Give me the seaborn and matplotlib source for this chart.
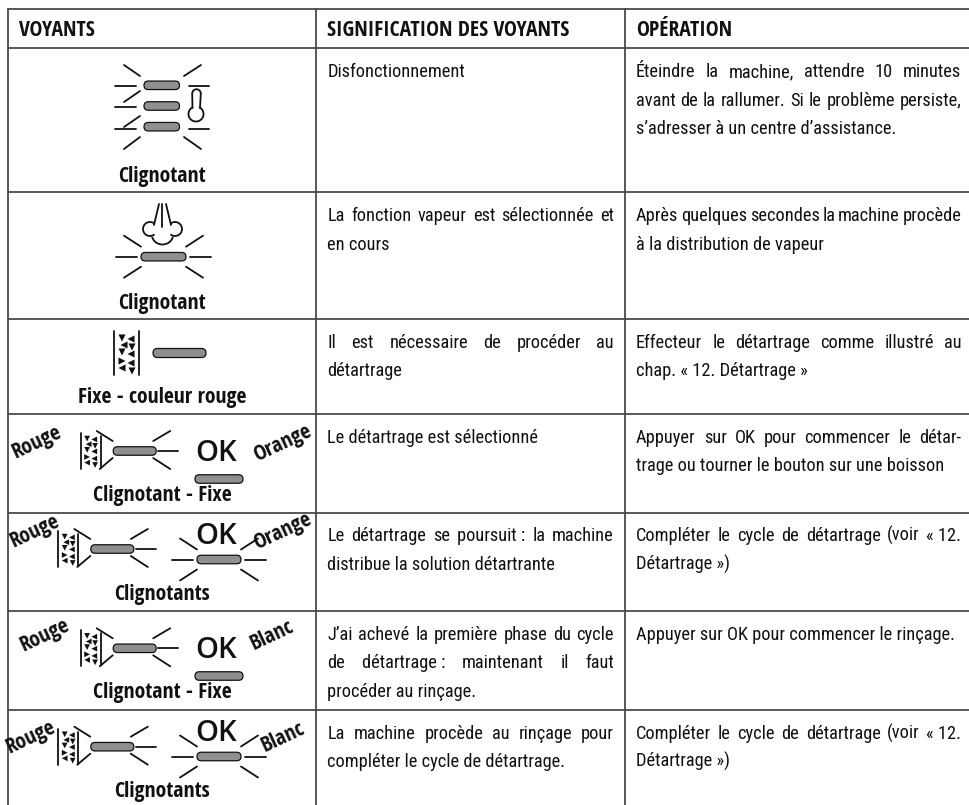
import matplotlib
matplotlib.use("Agg")
import matplotlib.pyplot as plt
import pandas as pd
import seaborn as sns
from matplotlib.patches import Arc, FancyBboxPatch

# table text
headers = ["VOYANTS", "SIGNIFICATION DES VOYANTS", "OPÉRATION"]
captions = ["Clignotant", "Clignotant", "Fixe - couleur rouge", "Clignotant - Fixe",
            "Clignotants", "Clignotant - Fixe", "Clignotants"]
meanings = [
    ["Disfonctionnement"],
    ["La fonction vapeur est sélectionnée et", "en cours"],
    ["Il est nécessaire de procéder au", "détartrage"],
    ["Le détartrage est sélectionné"],
    ["Le détartrage se poursuit\u00a0: la machine", "distribue la solution détartrante"],
    ["J’ai achevé la première phase du cycle", "de détartrage\u00a0: maintenant il faut", "procéder au rinçage."],
    ["La machine procède au rinçage pour", "compléter le cycle de détartrage."],
]
operations = [
    ["Éteindre la machine, attendre 10 minutes", "avant de la rallumer. Si le problème persiste,", "s’adresser à un centre d’assistance."],
    ["Après quelques secondes la machine procède", "à la distribution de vapeur"],
    ["Effecteur le détartrage comme illustré au", "chap. «\u00a012. Détartrage\u00a0»"],
    ["Appuyer sur OK pour commencer le détar-", "trage ou tourner le bouton sur une boisson"],
    ["Compléter le cycle de détartrage (voir «\u00a012.", "Détartrage\u00a0»)"],
    ["Appuyer sur OK pour commencer le rinçage."],
    ["Compléter le cycle de détartrage (voir «\u00a012.", "Détartrage\u00a0»)"],
]
color_words = ["Rouge", "Orange", "Rouge", "Orange", "Rouge", "Blanc", "Rouge", "Blanc"]

# page layout in pixels
W, H = 969, 805
row_edges = [9, 48.5, 192.5, 319, 414, 512.5, 611, 710]
col_edges = [8, 316, 625]
col_left = [19, 327.5, 636]
col_right = [316, 614, 961.5]
INK = "#111111"
RULE = "#444444"
BODY_FONT = "Roboto Condensed"
BOLD_FONT = "Open Sans Condensed"
BODY = 13.2
CAP = 15.6

sns.set_theme(style="white")
plt.rcParams["font.family"] = [BODY_FONT, "DejaVu Sans"]

fig = plt.figure(figsize=(W / 100, H / 100), dpi=100)
ax = fig.add_axes([0, 0, 1, 1])
ax.set_xlim(0, W)
ax.set_ylim(H, 0)
ax.axis("off")

rules = []
rays = []
dots = []
dots_small = []


def seg(store, x0, y0, x1, y1):
    n = len(store)
    store.append({"x": x0, "y": y0, "seg": n // 2})
    store.append({"x": x1, "y": y1, "seg": n // 2})


def pill(x0, x1, y, h=8.5):
    ax.add_patch(FancyBboxPatch((x0, y - h / 2), x1 - x0, h, boxstyle=f"round,pad=0,rounding_size={h / 2}",
                                fc="#8f8f8f", ec=INK, lw=0.9, zorder=3))


def burst(cx, cy, half):
    for s in (-1, 1):
        seg(rays, cx + s * (half + 25), cy, cx + s * (half + 4), cy)
        seg(rays, cx + s * (half + 17), cy - 21, cx + s * half, cy - 10)
        seg(rays, cx + s * (half + 17), cy + 21, cx + s * half, cy + 10)


def grains(x, y, store, k):
    offs = [(8, 7, "v"), (17, 8, "<"), (10, 14, "<"), (18, 16, "v"), (8, 21, "v"),
            (17, 23, "<"), (8, 30, ">"), (17, 32, "<"), (8, 37, "<"), (18, 40, "v")]
    for dx, dy, m in offs:
        store.append({"x": x + dx * k, "y": y + dy * k, "m": m})


def small_lamp(x, cy):
    # x is the left bar of the scale symbol, cy the pill line
    seg(rays, x, cy - 18, x, cy + 18)
    seg(rays, x + 20, cy - 15, x + 20, cy + 17)
    seg(rays, x + 16, cy - 20, x + 32, cy - 10)
    seg(rays, x + 32, cy + 7, x + 19, cy + 18)
    grains(x, cy - 18, dots_small, 0.8)
    pill(x + 32.5, x + 75.5, cy)
    seg(rays, x + 72.5, cy - 10, x + 89.5, cy - 20)
    seg(rays, x + 77.5, cy, x + 97.5, cy)
    seg(rays, x + 72.5, cy + 7, x + 89.5, cy + 18)


def ok_fixed(cy):
    ax.text(216, cy + 1, "OK", family="Open Sans", fontweight=600, fontsize=21, color=INK, ha="center", va="center")
    pill(195, 243, cy + 27)


def ok_blink(cy):
    ax.text(216.5, cy, "OK", family="Open Sans", fontweight=600, fontsize=21, color=INK, ha="center", va="center")
    pill(197, 241, cy + 23.5)
    burst(219, cy + 23.5, 22)


def put_line(x0, x1, y, line, justify):
    if not justify:
        ax.text(x0, y, line, fontsize=BODY, color=INK, va="baseline")
        return
    words = line.split(" ")
    items = [ax.text(x0, y, w, fontsize=BODY, color=INK, va="baseline") for w in words]
    rend = fig.canvas.get_renderer()
    widths = [t.get_window_extent(rend).width for t in items]
    gap = (x1 - x0 - sum(widths)) / (len(words) - 1)
    x = x0
    for t, w in zip(items, widths):
        t.set_x(x)
        x += w + gap


# table rules
for y in row_edges:
    seg(rules, col_edges[0], y, W, y)
for x in col_edges:
    seg(rules, x, row_edges[0], x, H)

# header and body text
for x, name in zip(col_left, headers):
    ax.text(x, 36, name, family=BOLD_FONT, fontsize=CAP, fontweight="bold", color=INK, va="baseline")
for col, cells in ((1, meanings), (2, operations)):
    for top, lines in zip(row_edges[1:], cells):
        for i, line in enumerate(lines):
            put_line(col_left[col], col_right[col], top + 28.5 + i * 28.5, line, i < len(lines) - 1)

caption_y = [182, 309, 403, 501, 600, 698, 797]
for y, cap in zip(caption_y, captions):
    ax.text(162, y, cap, family=BOLD_FONT, fontsize=CAP, fontweight="bold", color=INK, ha="center", va="baseline")

word_pos = [(36.5, 442), (283, 443), (35, 531), (283, 531), (45, 635), (272, 635), (31, 737), (283, 737)]
for (x, y), w in zip(word_pos, color_words):
    ax.text(x, y, w, family=BOLD_FONT, fontsize=CAP, fontweight="bold", color=INK, rotation=25,
            ha="center", va="center", rotation_mode="anchor")

# icon row 1, overheating
for y in (85.3, 106, 126.7):
    pill(144, 179.5, y)
seg(rays, 124, 65, 140, 76)
seg(rays, 184, 76, 201, 65)
seg(rays, 115, 86, 136, 86)
seg(rays, 189, 86, 209, 86)
seg(rays, 124, 102, 140, 91)
seg(rays, 115, 107, 136, 107)
seg(rays, 124, 127, 140, 116)
seg(rays, 115, 129, 136, 129)
seg(rays, 189, 129, 209, 129)
seg(rays, 124, 149, 140, 137)
seg(rays, 184, 137, 201, 149)
ax.add_patch(Arc((196, 114), 15, 15, theta1=-65, theta2=245, color=INK, lw=1.3))
ax.add_patch(Arc((196.5, 93.5), 8.5, 8.5, theta1=180, theta2=360, color=INK, lw=1.3))
seg(rays, 192.2, 93.5, 192.5, 108)
seg(rays, 200.8, 93.5, 200, 108)

# icon row 2, steam
pill(141, 186, 256.7)
burst(163.5, 256.7, 22.5)
seg(rays, 159, 204, 154, 225)
seg(rays, 162.3, 204, 162.3, 227)
seg(rays, 166, 204, 171, 225)
ax.add_patch(Arc((150, 229), 14, 14, theta1=50, theta2=310, color=INK, lw=1.3))
ax.add_patch(Arc((175, 229), 14, 14, theta1=-130, theta2=130, color=INK, lw=1.3))
ax.add_patch(Arc((162.5, 235), 21, 19, theta1=10, theta2=170, color=INK, lw=1.3))

# icon row 3, descaling needed
seg(rays, 114, 331, 114, 375)
seg(rays, 139, 331, 139, 375)
grains(114, 331, dots, 1)
pill(153, 206, 353, 9)

# icon rows 4 to 7
small_lamp(80.7, 451)
ok_fixed(452)
small_lamp(58.3, 549)
ok_blink(536)
small_lamp(80.7, 648.3)
ok_fixed(649)
small_lamp(58.3, 746.7)
ok_blink(733)

sns.lineplot(data=pd.DataFrame(rules), x="x", y="y", units="seg", estimator=None, sort=False,
             color=RULE, lw=1.25, ax=ax, legend=False)
sns.lineplot(data=pd.DataFrame(rays), x="x", y="y", units="seg", estimator=None, sort=False,
             color=INK, lw=1.3, ax=ax, legend=False)
marks = {"v": "v", "<": "<", ">": ">"}
sns.scatterplot(data=pd.DataFrame(dots), x="x", y="y", style="m", markers=marks, color=INK, s=26,
                linewidth=0, ax=ax, legend=False)
sns.scatterplot(data=pd.DataFrame(dots_small), x="x", y="y", style="m", markers=marks, color=INK, s=17,
                linewidth=0, ax=ax, legend=False)

ax.set_xlim(0, W)
ax.set_ylim(H, 0)
fig.savefig("out.png", dpi=100, facecolor="white")
